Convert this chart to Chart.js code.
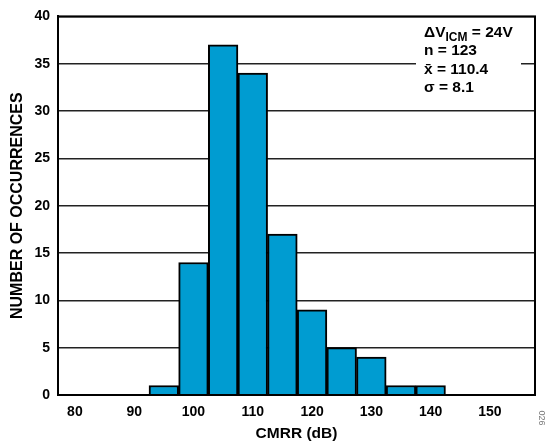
<!DOCTYPE html>
<html>
<head>
<meta charset="utf-8">
<script src="https://cdn.jsdelivr.net/npm/chart.js@4/dist/chart.umd.min.js"></script>
<style>
html,body{margin:0;padding:0;background:#fff;}
#wrap{width:547px;height:446px;position:relative;}
</style>
</head>
<body>
<div id="wrap"><canvas id="c" width="547" height="446"></canvas></div>
<script>
const binCenters = [95, 100, 105, 110, 115, 120, 125, 130, 135, 140];
const occurrences = [1, 14, 37, 34, 17, 9, 5, 4, 1, 1];
const xTickValues = [80, 90, 100, 110, 120, 130, 140, 150];
const yTickValues = [0, 5, 10, 15, 20, 25, 30, 35, 40];
const xTitle = 'CMRR (dB)';
const yTitle = 'NUMBER OF OCCURRENCES';
const statLines = [
  {main: 'ΔV', sub: 'ICM', rest: ' = 24V'},
  {main: 'n = 123'},
  {main: 'x̄ = 110.4'},
  {main: 'σ = 8.1'}
];
const figureId = '026';

const FONT = '"Liberation Sans", Arial, Helvetica, sans-serif';

const annotPlugin = {
  id: 'annot',
  afterDraw(chart) {
    const ctx = chart.ctx;
    const a = chart.chartArea;
    ctx.save();
    // frame
    ctx.strokeStyle = '#000';
    ctx.lineWidth = 2;
    ctx.strokeRect(a.left, a.top, a.right - a.left, a.bottom - a.top);
    // stats box
    ctx.fillStyle = '#fff';
    ctx.fillRect(416, 20, 105, 84);
    ctx.fillStyle = '#000';
    ctx.textBaseline = 'middle';
    ctx.textAlign = 'left';
    const x0 = 424;
    const ys = [33, 51, 70, 88];
    statLines.forEach((ln, i) => {
      ctx.font = 'bold 15.5px ' + FONT;
      let x = x0;
      ctx.fillText(ln.main, x, ys[i]);
      x += ctx.measureText(ln.main).width;
      if (ln.sub) {
        ctx.font = 'bold 12px ' + FONT;
        ctx.fillText(ln.sub, x, ys[i] + 5);
        x += ctx.measureText(ln.sub).width;
        ctx.font = 'bold 15.5px ' + FONT;
        ctx.fillText(ln.rest, x, ys[i]);
      }
    });
    // figure id
    ctx.font = '9px ' + FONT;
    ctx.fillStyle = '#777';
    ctx.translate(541, 418);
    ctx.rotate(Math.PI / 2);
    ctx.textAlign = 'center';
    ctx.fillText(figureId, 0, 0);
    ctx.restore();
  }
};

new Chart(document.getElementById('c'), {
  type: 'bar',
  data: {
    datasets: [{
      data: binCenters.map((b, i) => ({x: b, y: occurrences[i]})),
      backgroundColor: '#009cd1',
      borderColor: '#000',
      borderWidth: 2,
      barPercentage: 1,
      categoryPercentage: 1,
      grouped: false
    }]
  },
  options: {
    responsive: false,
    animation: false,
    devicePixelRatio: 1,
    layout: {padding: {top: 15, right: 12, left: 0, bottom: 0}},
    plugins: {legend: {display: false}, tooltip: {enabled: false}},
    scales: {
      x: {
        type: 'linear',
        offset: false,
        min: 77.15,
        max: 157.6,
        afterBuildTicks: s => { s.ticks = xTickValues.map(v => ({value: v})); },
        afterFit: s => { s.height = 51; },
        grid: {display: false, drawTicks: false},
        border: {display: true, color: '#000', width: 2},
        ticks: {
          padding: 9,
          color: '#000',
          font: {family: FONT, size: 14, weight: 'bold'}
        },
        title: {
          display: true,
          text: xTitle,
          color: '#000',
          font: {family: FONT, size: 15.5, weight: 'bold'},
          padding: {top: 0, bottom: 3}
        }
      },
      y: {
        min: 0,
        max: 40,
        afterBuildTicks: s => { s.ticks = yTickValues.map(v => ({value: v})); },
        afterFit: s => { s.width = 58; },
        grid: {display: true, color: '#222', lineWidth: 1.5, drawTicks: false},
        border: {display: true, color: '#000', width: 2},
        ticks: {
          padding: 8,
          color: '#000',
          font: {family: FONT, size: 14, weight: 'bold'}
        },
        title: {
          display: true,
          text: yTitle,
          color: '#000',
          font: {family: FONT, size: 16, weight: 'bold'},
          padding: {top: 8, bottom: 0}
        }
      }
    }
  },
  plugins: [annotPlugin]
});
</script>
</body>
</html>
